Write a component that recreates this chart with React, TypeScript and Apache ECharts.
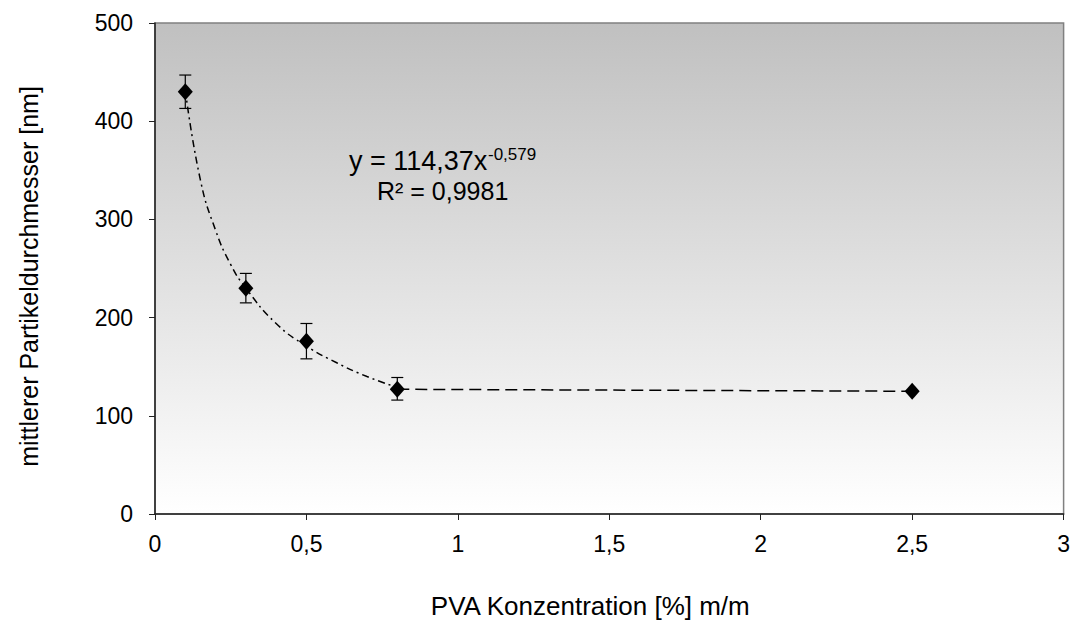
import React, { useEffect, useRef } from "react";
import * as echarts from "echarts";

const concentrations = [0.1, 0.3, 0.5, 0.8, 2.5];
const diameters = [430, 230, 176, 127, 125];
const errLow = [413, 215, 158, 116, 125];
const errHigh = [447, 245, 194, 139, 125];
// trend curve
const trendX = [0.1, 0.15, 0.2, 0.25, 0.3, 0.4, 0.5, 0.6, 0.7, 0.8];
const trendY = [432, 340, 289, 254, 230, 194, 171, 154, 140, 129];
const plateauX = [0.8, 2.5];
const plateauY = [127, 125];

const FONT = "'Liberation Sans', Arial, sans-serif";

export default function App() {
  const ref = useRef<HTMLDivElement>(null);
  useEffect(() => {
    if (!ref.current) return;
    const chart = echarts.init(ref.current, null, { renderer: "svg" });
    const points = concentrations.map((x, i) => [x, diameters[i]]);
    const errData = concentrations
      .map((x, i) => [x, errLow[i], errHigh[i]])
      .filter((d) => d[2] - d[1] > 0.5);
    chart.setOption({
      animation: false,
      backgroundColor: "#fff",
      grid: {
        left: 155,
        right: 8,
        top: 23,
        bottom: 106,
        show: true,
        borderColor: "#808080",
        borderWidth: 1.5,
        backgroundColor: new echarts.graphic.LinearGradient(0, 0, 0, 1, [
          { offset: 0, color: "#c0c0c0" },
          { offset: 1, color: "#ffffff" },
        ]),
      },
      xAxis: {
        type: "value",
        min: 0,
        max: 3,
        interval: 0.5,
        name: "PVA Konzentration [%] m/m",
        nameLocation: "middle",
        nameGap: 79,
        nameTextStyle: { fontFamily: FONT, fontSize: 26, color: "#000", padding: [0, 38, 0, 0] },
        axisLine: { show: true, lineStyle: { color: "#222", width: 1.5 } },
        axisTick: { show: true, length: 6, lineStyle: { color: "#222" } },
        splitLine: { show: false },
        axisLabel: {
          fontFamily: FONT,
          fontSize: 23,
          color: "#000",
          margin: 18,
          formatter: (v: number) => String(v).replace(".", ","),
        },
      },
      yAxis: {
        type: "value",
        min: 0,
        max: 500,
        interval: 100,
        name: "mittlerer Partikeldurchmesser [nm]",
        nameLocation: "middle",
        nameGap: 114,
        nameRotate: 90,
        nameTextStyle: { fontFamily: FONT, fontSize: 25, color: "#000", padding: [0, 16, 0, 0] },
        axisLine: { show: true, lineStyle: { color: "#222", width: 1.5 } },
        axisTick: { show: true, length: 6, lineStyle: { color: "#222" } },
        splitLine: { show: false },
        axisLabel: { fontFamily: FONT, fontSize: 23, color: "#000", margin: 22 },
      },
      graphic: [
        {
          type: "text",
          x: 349,
          y: 161,
          style: { text: "y = 114,37x", fontFamily: FONT, fontSize: 27, fill: "#000", verticalAlign: "middle" },
        },
        {
          type: "text",
          x: 488,
          y: 154,
          style: { text: "-0,579", fontFamily: FONT, fontSize: 17, fill: "#000", verticalAlign: "middle" },
        },
        {
          type: "text",
          x: 377,
          y: 191,
          style: { text: "R² = 0,9981", fontFamily: FONT, fontSize: 25, fill: "#000", verticalAlign: "middle" },
        },
      ],
      series: [
        {
          type: "line",
          data: trendX.map((x, i) => [x, trendY[i]]),
          smooth: true,
          symbol: "none",
          lineStyle: { color: "#000", width: 1.5, type: [7, 4, 2, 4] },
          z: 2,
        },
        {
          type: "line",
          data: plateauX.map((x, i) => [x, plateauY[i]]),
          symbol: "none",
          lineStyle: { color: "#000", width: 1.5, type: [12, 6] },
          z: 2,
        },
        {
          type: "custom",
          data: errData,
          z: 3,
          renderItem: (params: any, api: any) => {
            const x = api.value(0);
            const lo = api.coord([x, api.value(1)]);
            const hi = api.coord([x, api.value(2)]);
            const w = 6;
            const st = { stroke: "#000", lineWidth: 1.2 };
            return {
              type: "group",
              children: [
                { type: "line", shape: { x1: lo[0], y1: lo[1], x2: hi[0], y2: hi[1] }, style: st },
                { type: "line", shape: { x1: lo[0] - w, y1: lo[1], x2: lo[0] + w, y2: lo[1] }, style: st },
                { type: "line", shape: { x1: hi[0] - w, y1: hi[1], x2: hi[0] + w, y2: hi[1] }, style: st },
              ],
            };
          },
        },
        {
          type: "scatter",
          data: points,
          symbol: "diamond",
          symbolSize: [15, 17],
          itemStyle: { color: "#000", opacity: 1 },
          z: 4,
        },
      ],
    });
    return () => chart.dispose();
  }, []);
  return <div ref={ref} style={{ width: 1073, height: 624, position: "absolute", left: 0, top: 0 }} />;
}
